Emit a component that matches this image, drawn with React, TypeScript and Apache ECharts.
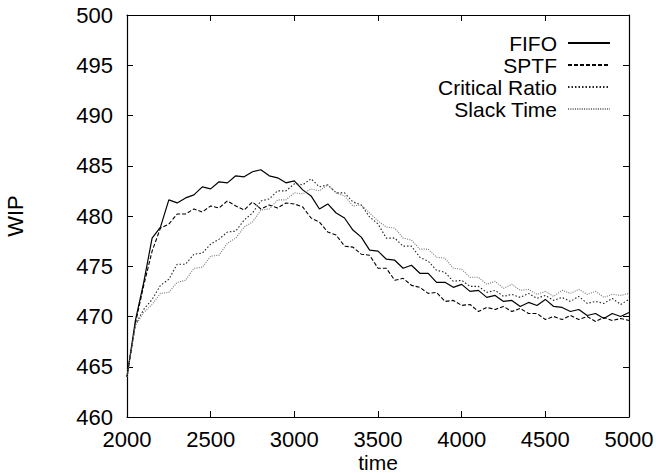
import React, { useEffect, useRef } from "react";
import * as echarts from "echarts";

const times: number[] = [];
for (let t = 2000; t <= 5000; t += 50) times.push(t);

const fifo = [
  464.0, 469.6, 473.4, 477.8, 478.9, 481.6, 481.3, 481.8, 482.1, 482.9,
  482.7, 483.4, 483.3, 484.0, 483.9, 484.4, 484.6, 484.0, 483.8, 483.3,
  483.5, 482.6, 482.0, 480.7, 481.2, 480.3, 479.8, 478.6, 477.9, 476.6,
  476.5, 475.7, 475.6, 474.8, 475.1, 474.3, 474.3, 473.4, 473.4, 472.9,
  473.2, 472.5, 472.6, 471.9, 472.1, 471.5, 471.6, 471.0, 471.4, 471.1,
  471.7, 471.0, 470.9, 470.5, 470.7, 470.1, 470.3, 469.8, 470.3, 470.0,
  470.4,
];
const sptf = [
  464.0, 469.3, 473.1, 476.5, 478.8, 479.2, 480.2, 480.2, 480.7, 480.4,
  481.0, 480.8, 481.5, 481.0, 480.6, 481.4, 480.7, 481.1, 480.8, 481.3,
  481.2, 480.9, 479.8, 479.4, 478.4, 478.1, 477.0, 476.9, 476.2, 476.1,
  474.8, 474.8, 473.6, 473.8, 473.1, 472.9, 472.3, 472.4, 471.5, 471.6,
  471.1, 471.2, 470.5, 470.9, 470.7, 471.0, 470.5, 470.8, 470.3, 470.3,
  469.7, 470.0, 469.7, 470.1, 469.7, 470.0, 469.5, 469.9, 469.6, 469.8,
  469.6,
];
const criticalRatio = [
  464.0, 469.2, 470.7, 471.7, 473.1, 473.7, 475.2, 475.2, 476.2, 476.3,
  477.2, 477.7, 478.4, 478.5, 479.6, 480.3, 481.5, 481.7, 482.5, 482.5,
  483.2, 483.1, 483.7, 482.9, 483.1, 482.3, 482.3, 481.4, 481.1, 479.9,
  479.2, 477.8, 477.8, 477.0, 477.0, 475.9, 475.5, 474.6, 474.4, 473.5,
  473.6, 473.0, 473.0, 472.4, 472.6, 472.0, 472.2, 471.9, 472.3, 471.8,
  472.1, 471.6, 471.9, 471.5, 472.0, 471.3, 471.5, 471.3, 471.8, 471.2,
  471.7,
];
const slackTime = [
  464.0, 469.1, 470.4, 471.2, 472.3, 472.4, 473.4, 473.6, 474.8, 474.9,
  476.0, 476.1, 477.3, 477.8, 478.9, 479.4, 480.6, 480.7, 481.6, 481.6,
  482.3, 482.2, 482.7, 482.5, 483.1, 482.3, 482.0, 481.0, 481.1, 480.3,
  479.5, 478.9, 478.8, 477.8, 477.6, 476.7, 476.7, 475.9, 475.8, 474.8,
  474.7, 473.9, 473.9, 473.2, 473.5, 472.8, 473.2, 472.6, 472.7, 472.2,
  472.5, 472.0, 472.6, 472.3, 472.7, 472.2, 472.5, 471.9, 472.2, 472.1,
  472.3,
];

const seriesNames = ["FIFO", "SPTF", "Critical Ratio", "Slack Time"];
const seriesData = [fifo, sptf, criticalRatio, slackTime];
const lineStyles: any[] = [
  { color: "#000", width: 1.2, type: "solid" },
  { color: "#000", width: 1.1, type: [4, 2] },
  { color: "#222", width: 1.1, type: [1.5, 2] },
  { color: "#777", width: 1.1, type: [1, 1.3] },
];

const FONT = "'Liberation Sans', Arial, Helvetica, sans-serif";
const FS = 22;

export default function App() {
  const ref = useRef<HTMLDivElement>(null);
  useEffect(() => {
    if (!ref.current) return;
    const chart = echarts.init(ref.current, undefined, { renderer: "svg" });
    const axisCommon = {
      axisLine: { show: true, lineStyle: { color: "#000", width: 1.2 } },
      splitLine: { show: false },
    };
    const tick = { show: true, inside: true, length: 6, lineStyle: { color: "#000" } };
    chart.setOption({
      animation: false,
      backgroundColor: "#fff",
      grid: { left: 127, right: 27, top: 15, bottom: 56, outerBoundsMode: "none", containLabel: false },
      legend: {
        orient: "vertical",
        right: 40,
        top: 27,
        align: "right",
        itemWidth: 42,
        itemHeight: 10,
        itemGap: 0,
        data: seriesNames,
        itemStyle: { opacity: 0 },
        textStyle: { fontFamily: FONT, fontSize: 21, color: "#000", lineHeight: 22, padding: [0, 6, 0, 0] },
      },
      xAxis: [
        {
          type: "value",
          min: 2000,
          max: 5000,
          interval: 500,
          position: "bottom",
          name: "time",
          nameLocation: "middle",
          nameGap: 35,
          nameMoveOverlap: false,
          nameTextStyle: { fontFamily: FONT, fontSize: 21, lineHeight: 20, color: "#000" },
          axisTick: tick,
          axisLabel: {
            fontFamily: FONT,
            fontSize: FS,
            color: "#000",
            margin: 11,
            formatter: (v: number) => String(v),
          },
          ...axisCommon,
        },
        {
          type: "value",
          min: 2000,
          max: 5000,
          interval: 500,
          position: "top",
          axisTick: tick,
          axisLabel: { show: false },
          ...axisCommon,
        },
      ],
      yAxis: [
        {
          type: "value",
          min: 460,
          max: 500,
          interval: 5,
          position: "left",
          name: "WIP",
          nameLocation: "middle",
          nameGap: 101,
          nameRotate: 90,
          nameTextStyle: { fontFamily: FONT, fontSize: FS, color: "#000" },
          axisTick: tick,
          axisLabel: { fontFamily: FONT, fontSize: FS, color: "#000", margin: 14 },
          ...axisCommon,
        },
        {
          type: "value",
          min: 460,
          max: 500,
          interval: 5,
          position: "right",
          axisTick: tick,
          axisLabel: { show: false },
          ...axisCommon,
        },
      ],
      series: seriesNames.map((name, i) => ({
        name,
        type: "line",
        xAxisIndex: 0,
        yAxisIndex: 0,
        showSymbol: false,
        symbol: "none",
        data: times.map((t, j) => [t, seriesData[i][j]]),
        lineStyle: lineStyles[i],
        itemStyle: { color: lineStyles[i].color },
      })),
    });
    return () => chart.dispose();
  }, []);
  return <div ref={ref} style={{ width: 656, height: 473, position: "absolute", left: 0, top: 0 }} />;
}
